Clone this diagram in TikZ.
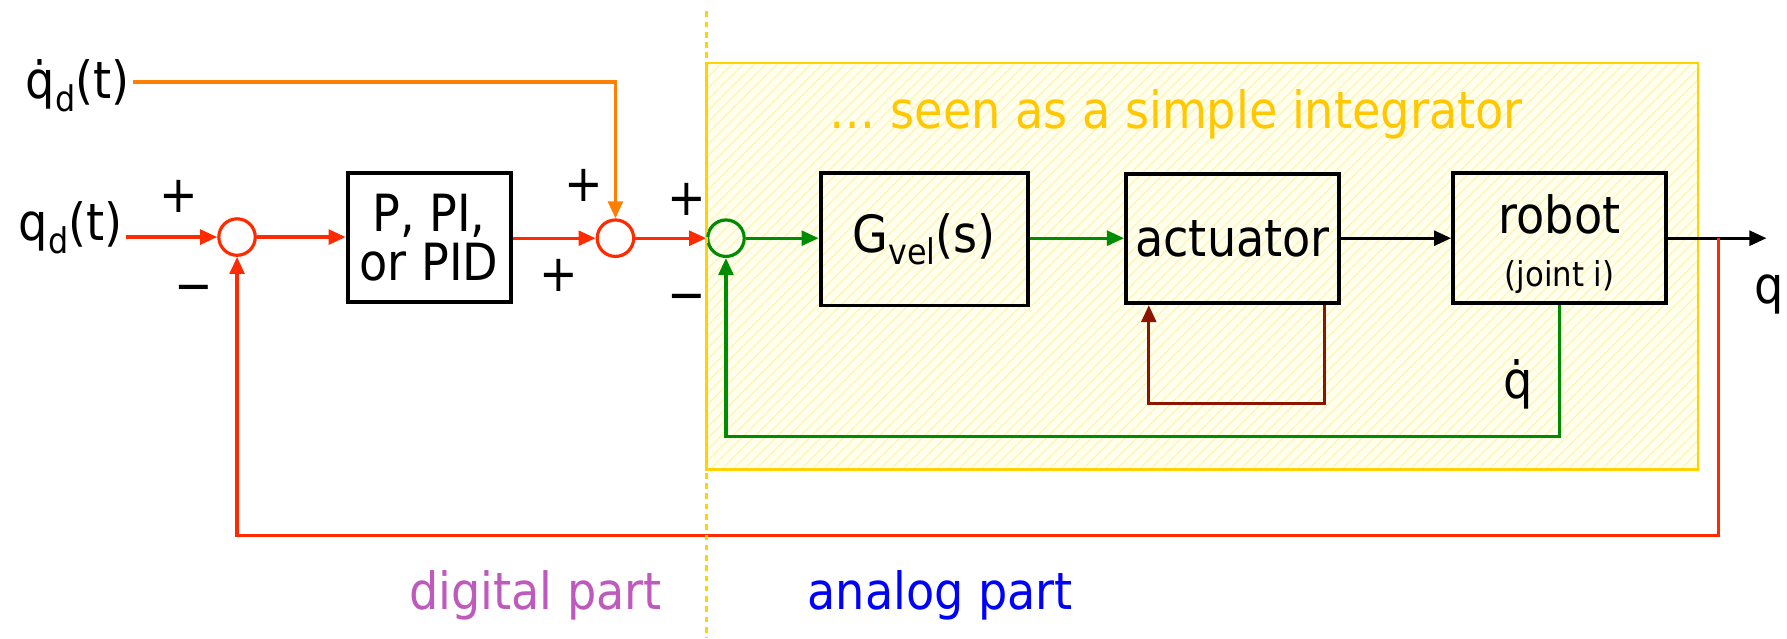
\documentclass[tikz,border=0pt]{standalone}
\usepackage{fontspec}
\setmainfont{DejaVu Sans Condensed}
\usetikzlibrary{arrows.meta,patterns.meta}
\definecolor{cred}{RGB}{255,42,0}
\definecolor{corange}{RGB}{255,128,0}
\definecolor{cgreen}{RGB}{0,140,0}
\definecolor{cdred}{RGB}{140,20,0}
\definecolor{ybord}{RGB}{255,210,0}
\definecolor{ytext}{RGB}{255,200,0}
\definecolor{yfill}{RGB}{255,255,238}
\definecolor{yhatch}{RGB}{255,243,185}
\definecolor{cpurple}{RGB}{190,90,190}
\definecolor{cblue}{RGB}{0,0,255}
\newcommand{\mysb}[1]{\raisebox{-0.45ex}{\fontsize{31}{31}\selectfont #1}}
\begin{document}
\begin{tikzpicture}[x=1pt,y=-1pt,font=\fontsize{45}{49}\selectfont,
  blk/.style={draw=black,line width=3.4pt,align=center,inner sep=0pt},
  sumc/.style={circle,line width=2.8pt,minimum size=32pt,inner sep=0pt},
  conn/.style={line width=2.8pt,-{Triangle[length=15pt,width=13pt]}},
  sign/.style={inner sep=0pt}]
\useasboundingbox (0,0) rectangle (1568,560);
% analog region
\fill[yfill] (620,55) rectangle (1490,412);
\fill[pattern={Lines[angle=45,distance=7pt,line width=1.1pt]},pattern color=yhatch] (620,55) rectangle (1490,412);
\draw[ybord,line width=2pt] (620,55) rectangle (1490,412);
\node[text=ytext] (integ) at (1032,100) {… seen as a simple integrator};
% nodes
\node (qdd) at (68,75) {\.{q}\mysb{d}(t)};
\node (qd) at (62,200) {q\mysb{d}(t)};
\node[sumc,draw=cred] (s1) at (208,208) {};
\node[blk,minimum width=143pt,minimum height=113pt] (pid) at (376.5,208.5) {P, PI,\\[-6pt]or PID};
\node[sumc,draw=cred] (s2) at (540,209) {};
\node[sumc,draw=cgreen] (s3) at (637,209) {};
\node[blk,minimum width=182pt,minimum height=116pt] (gvel) at (811,210) {G\mysb{vel}(s)};
\node[blk,minimum width=187pt,minimum height=113pt] (act) at (1081.5,209.5) {actuator};
\node[blk,minimum width=187pt,minimum height=114pt] (robot) at (1368.5,209) {};
\node (robt) at (1368.5,188) {robot};
\node[font=\fontsize{30}{32}\selectfont] (joint) at (1368.5,243) {(joint i)};
\coordinate (br) at (1508,209);
\coordinate (out) at (1550,209);
\node (q) at (1552,258) {q};
\node (qdot) at (1332,337) {\.{q}};
% signs
\node[sign] (p1) at (157,172) {+};
\node[sign] (m1) at (170,258) {−};
\node[sign] (p2) at (512,163) {+};
\node[sign] (p3) at (490,242) {+};
\node[sign] (p4) at (603,175) {+};
\node[sign] (m2) at (603,266) {−};
% region labels
\node[text=cpurple] (dig) at (470,522) {digital part};
\node[text=cblue] (ana) at (825,522) {analog part};
% connectors
\draw[conn,corange] (qdd.east |- 0,72) -| (s2.north);
\draw[conn,cred] (qd.east |- s1.west) -- (s1.west);
\draw[conn,cred] (s1.east) -- (pid.west |- s1.east);
\draw[conn,cred] (pid.east |- s2.west) -- (s2.west);
\draw[conn,cred] (s2.east) -- (s3.west);
\draw[conn,cgreen] (s3.east) -- (gvel.west |- s3.east);
\draw[conn,cgreen] (gvel.east |- s3.east) -- (act.west |- s3.east);
\draw[conn,black] (act.east |- s3.east) -- (robot.west |- s3.east);
\draw[conn,black] (robot.east) -- (out);
\draw[conn,cred] (br) -- (br |- 0,470) -| (s1.south);
\draw[conn,cgreen] (robot.south) -- (robot.south |- 0,383) -| (s3.south);
\draw[conn,cdred] ([xshift=80.5pt]act.south) -- ++(0,86) -| ([xshift=-73.5pt]act.south);
% separator
\draw[ybord,line width=2.5pt,dash pattern=on 5pt off 4pt] (620,10) -- (620,560);
\end{tikzpicture}
\end{document}
